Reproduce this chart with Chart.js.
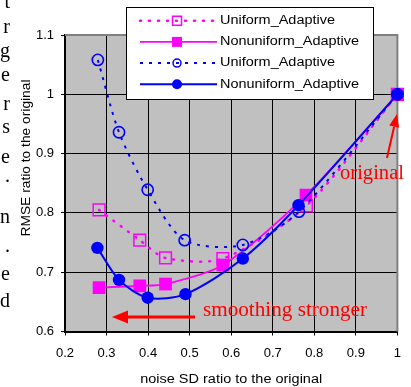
<!DOCTYPE html>
<html><head><meta charset="utf-8">
<script src="https://cdn.jsdelivr.net/npm/chart.js@4/dist/chart.umd.min.js"></script>
<style>html,body{margin:0;padding:0;background:#fff;}canvas{display:block;}</style>
</head><body>
<canvas id="c" width="411" height="387"></canvas>
<script>
// ---- data ----
const seriesNames = ['Uniform_Adaptive', 'Nonuniform_Adaptive', 'Uniform_Adaptive', 'Nonuniform_Adaptive'];
const magUniX = [0.282, 0.380, 0.442, 0.580, 0.781, 1.0];
const magUniY = [0.805, 0.754, 0.724, 0.723, 0.812, 1.0];
const magNonX = [0.282, 0.380, 0.442, 0.580, 0.780, 1.0];
const magNonY = [0.674, 0.677, 0.680, 0.712, 0.830, 1.0];
const blueUniX = [0.279, 0.330, 0.399, 0.488, 0.628, 0.763, 1.0];
const blueUniY = [1.058, 0.936, 0.839, 0.754, 0.746, 0.802, 1.0];
const blueNonX = [0.278, 0.330, 0.399, 0.490, 0.628, 0.762, 1.0];
const blueNonY = [0.741, 0.687, 0.657, 0.663, 0.723, 0.813, 1.0];
const xTicks = [0.2, 0.3, 0.4, 0.5, 0.6, 0.7, 0.8, 0.9, 1.0];
const xTickLabels = ['0.2', '0.3', '0.4', '0.5', '0.6', '0.7', '0.8', '0.9', '1'];
const yTicks = [0.6, 0.7, 0.8, 0.9, 1.0, 1.1];
const yTickLabels = ['0.6', '0.7', '0.8', '0.9', '1', '1.1'];
const xTitle = 'noise SD ratio to the original';
const yTitle = 'RMSE ratio to the original';
const noteStrong = 'smoothing stronger';
const noteOrig = 'original';
const sideLetters = ['t', 'r', 'g', 'e', 'r', 's', 'e', '.', 'n', '.', 'e', 'd'];

// ---- helpers ----
const MAG = '#ff00ff', BLUE = '#0000ff', RED = '#ff0000';
const SANS = "'Liberation Sans', Arial, sans-serif";
const SERIF = "'Liberation Serif', 'Times New Roman', serif";
Chart.defaults.font.family = SANS;
function zip(xs, ys) { return xs.map((x, i) => ({ x: x, y: ys[i] })); }
function fitText(ctx, text, x, y, w, font, color, align, baseline) {
  ctx.save();
  ctx.font = font; ctx.fillStyle = color; ctx.textBaseline = baseline || 'alphabetic'; ctx.textAlign = 'left';
  const m = ctx.measureText(text).width;
  ctx.translate(x, y); ctx.scale(w / m, 1);
  const ox = align === 'center' ? -m / 2 : (align === 'right' ? -m : 0);
  ctx.fillText(text, ox, 0);
  ctx.restore();
}
function arrow(ctx, x1, y1, x2, y2, lw, hl, hw, color) {
  const a = Math.atan2(y2 - y1, x2 - x1);
  const bx = x2 - Math.cos(a) * hl, by = y2 - Math.sin(a) * hl;
  ctx.save();
  ctx.strokeStyle = color; ctx.fillStyle = color; ctx.lineWidth = lw;
  ctx.beginPath(); ctx.moveTo(x1, y1); ctx.lineTo(bx, by); ctx.stroke();
  ctx.beginPath(); ctx.moveTo(x2, y2);
  ctx.lineTo(bx + Math.sin(a) * hw, by - Math.cos(a) * hw);
  ctx.lineTo(bx - Math.sin(a) * hw, by + Math.cos(a) * hw);
  ctx.closePath(); ctx.fill();
  ctx.restore();
}
function marker(ctx, style, filled, color, x, y, size) {
  ctx.save();
  ctx.setLineDash([]);
  ctx.strokeStyle = color; ctx.fillStyle = color; ctx.lineWidth = 1.5;
  ctx.beginPath();
  if (style === 'circle') ctx.arc(x, y, size / 2, 0, Math.PI * 2);
  else ctx.rect(x - size / 2, y - size / 2, size, size);
  if (filled) ctx.fill(); else ctx.stroke();
  ctx.restore();
}

const datasets = [
  { label: seriesNames[0], data: zip(magUniX, magUniY), borderColor: MAG, backgroundColor: 'rgba(0,0,0,0)',
    borderWidth: 2.5, borderDash: [1, 8], borderCapStyle: 'round', pointStyle: 'rect', pointRadius: 8.3,
    pointBorderWidth: 1.5, pointBorderColor: MAG, pointBackgroundColor: 'rgba(0,0,0,0)', order: 3,
    _leg: { style: 'rect', filled: false, size: 9 } },
  { label: seriesNames[1], data: zip(magNonX, magNonY), borderColor: MAG, backgroundColor: MAG,
    borderWidth: 1.8, pointStyle: 'rect', pointRadius: 9, pointBorderWidth: 0,
    pointBackgroundColor: MAG, order: 2, _leg: { style: 'rect', filled: true, size: 10 } },
  { label: seriesNames[2], data: zip(blueUniX, blueUniY), borderColor: BLUE, backgroundColor: 'rgba(0,0,0,0)',
    borderWidth: 2, borderDash: [3, 6], pointStyle: 'circle', pointRadius: 5.6,
    pointBorderWidth: 1.6, pointBorderColor: BLUE, pointBackgroundColor: 'rgba(0,0,0,0)', order: 1,
    _leg: { style: 'circle', filled: false, size: 8 } },
  { label: seriesNames[3], data: zip(blueNonX, blueNonY), borderColor: BLUE, backgroundColor: BLUE,
    borderWidth: 2, pointStyle: 'circle', pointRadius: 6.2, pointBorderWidth: 0,
    pointBackgroundColor: BLUE, order: 0, _leg: { style: 'circle', filled: true, size: 10 } }
];

const decor = {
  id: 'decor',
  beforeDraw(chart) {
    const { ctx, chartArea: a } = chart;
    ctx.save(); ctx.fillStyle = '#c0c0c0';
    ctx.fillRect(a.left, a.top, a.right - a.left, a.bottom - a.top);
    ctx.restore();
  },
  beforeDatasetsDraw(chart) {
    const { ctx, chartArea: a } = chart;
    ctx.save(); ctx.strokeStyle = '#808080'; ctx.lineWidth = 2;
    ctx.beginPath(); ctx.moveTo(a.left, a.top); ctx.lineTo(a.right, a.top); ctx.lineTo(a.right, a.bottom); ctx.stroke();
    ctx.restore();
  },
  afterDraw(chart) {
    const ctx = chart.ctx, a = chart.chartArea;
    // axis titles
    fitText(ctx, xTitle, (a.left + a.right) / 2, 380, 182, '12px ' + SANS, '#000', 'center', 'middle');
    ctx.save(); ctx.translate(26, 158); ctx.rotate(-Math.PI / 2);
    fitText(ctx, yTitle, 0, 0, 157, '13px ' + SANS, '#000', 'center', 'middle');
    ctx.restore();
    // legend
    const L = { x: 126, y: 7, w: 247, h: 92 };
    ctx.save(); ctx.fillStyle = '#fff'; ctx.fillRect(L.x, L.y, L.w, L.h);
    ctx.strokeStyle = '#000'; ctx.lineWidth = 1; ctx.strokeRect(L.x + 0.5, L.y + 0.5, L.w, L.h); ctx.restore();
    datasets.forEach((d, i) => {
      const y = L.y + 13.7 + i * 21.2;
      ctx.save();
      ctx.strokeStyle = d.borderColor; ctx.lineWidth = d.borderWidth;
      ctx.lineCap = d.borderCapStyle || 'butt';
      ctx.setLineDash(d.borderDash || []);
      ctx.beginPath(); ctx.moveTo(L.x + 14, y); ctx.lineTo(L.x + 91, y); ctx.stroke();
      ctx.restore();
      marker(ctx, d._leg.style, d._leg.filled, d.borderColor, L.x + 51, y, d._leg.size);
      fitText(ctx, d.label, L.x + 94, y, i % 2 === 0 ? 115 : 139, '12px ' + SANS, '#000', 'left', 'middle');
    });
    // annotations
    arrow(ctx, 195, 317, 112, 317, 3, 16, 6.5, RED);
    fitText(ctx, noteStrong, 203, 316, 164, '20px ' + SERIF, RED, 'left', 'alphabetic');
    arrow(ctx, 387, 158, 397, 114, 2, 13, 5, RED);
    fitText(ctx, noteOrig, 340, 179, 64, '20px ' + SERIF, RED, 'left', 'alphabetic');
    // clipped text of the neighbouring column
    const bases = [8, 33, 57, 81, 110, 133, 163, 182, 223, 252, 280, 307];
    ctx.save(); ctx.font = '20px ' + SERIF; ctx.fillStyle = '#000'; ctx.textAlign = 'right';
    sideLetters.forEach((t, i) => ctx.fillText(t, 10, bases[i]));
    ctx.restore();
  }
};

new Chart(document.getElementById('c'), {
  type: 'line',
  data: { datasets: datasets },
  plugins: [decor],
  options: {
    responsive: false, animation: false, devicePixelRatio: 1,
    layout: { padding: { left: 0, right: 13, top: 35, bottom: 0 } },
    plugins: { legend: { display: false }, tooltip: { enabled: false } },
    elements: { line: { tension: 0.28, fill: false } },
    datasets: { line: { clip: false } },
    scales: {
      x: {
        type: 'linear', min: 0.2, max: 1.0,
        afterBuildTicks: s => { s.ticks = xTicks.map(v => ({ value: v })); },
        afterFit: s => { s.height = 55.5; },
        ticks: { callback: (v, i) => xTickLabels[i], color: '#000', font: { size: 13 }, padding: 10, maxRotation: 0, autoSkip: false },
        grid: { color: c => (c.tick && Math.abs(c.tick.value - 1.0) < 1e-9) ? 'rgba(0,0,0,0)' : '#000', tickColor: '#000', tickLength: 4, lineWidth: 1 },
        border: { color: '#000', width: 2 }
      },
      y: {
        type: 'linear', min: 0.6, max: 1.1,
        afterBuildTicks: s => { s.ticks = yTicks.map(v => ({ value: v })); },
        afterFit: s => { s.width = 65; },
        ticks: { callback: (v, i) => yTickLabels[i], color: '#000', font: { size: 13 }, padding: 7, autoSkip: false },
        grid: { color: c => (c.tick && Math.abs(c.tick.value - 1.1) < 1e-9) ? 'rgba(0,0,0,0)' : '#000', tickColor: '#000', tickLength: 4, lineWidth: 1 },
        border: { color: '#000', width: 2 }
      }
    }
  }
});
</script>
</body></html>
